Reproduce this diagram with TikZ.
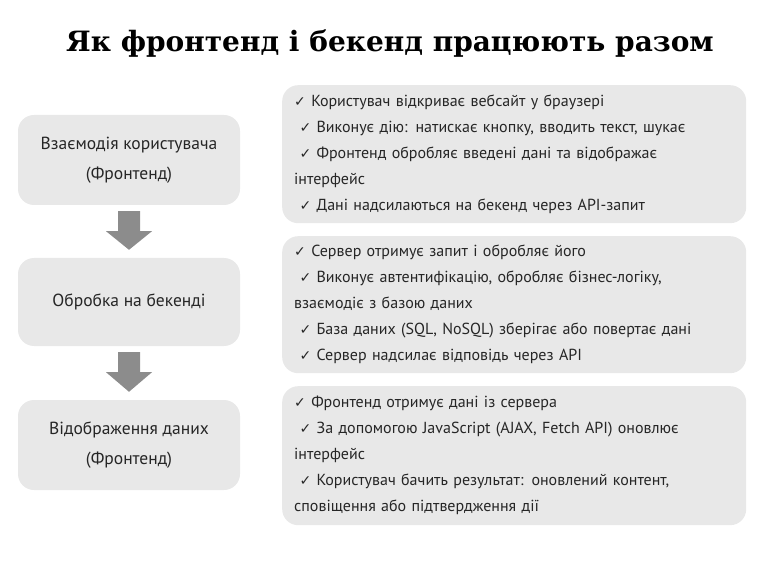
\documentclass[tikz,border=0pt]{standalone}
\usepackage{fontspec}
\setmainfont{PT Sans}
\newfontfamily\titlefont{DejaVu Serif}
\newfontfamily\symfont{DejaVu Sans}
\definecolor{boxgray}{HTML}{E8E8E8}
\definecolor{arrgray}{HTML}{8C8C8C}
\newcommand{\ck}{{\symfont\fontsize{14}{26}\selectfont ✓}}
\newcommand{\grayarrowdown}[2]{\fill[arrgray] ([xshift=-11pt,yshift=-6pt]#1.south) -- ([xshift=11pt,yshift=-6pt]#1.south) -- ([xshift=11pt,yshift=-26pt]#1.south) -- ([xshift=23pt,yshift=-26pt]#1.south) -- ([yshift=8pt]#2.north) -- ([xshift=-23pt,yshift=-26pt]#1.south) -- ([xshift=-11pt,yshift=-26pt]#1.south) -- cycle;}
\tikzset{
  leftbox/.style={fill=boxgray,rounded corners=16pt,minimum width=222pt,align=center,font=\fontsize{17.5}{30}\selectfont,text=black!85},
  rightbox/.style={fill=boxgray,rounded corners=16pt,minimum width=463pt,text width=440pt,align=left,font=\fontsize{16}{26}\selectfont,text=black!85,anchor=north west,inner xsep=12pt}
}
\begin{document}
\begin{tikzpicture}[x=1pt,y=-1pt]
\useasboundingbox (0,0) rectangle (768,561);
\node (title) at (390,44) {\titlefont\bfseries\fontsize{28}{32}\selectfont Як фронтенд і бекенд працюють разом};
\node[leftbox,minimum height=90pt] (l1) at (129,160) {Взаємодія користувача\\(Фронтенд)};
\node[leftbox,minimum height=88pt] (l2) at (129,302) {Обробка на бекенді};
\node[leftbox,minimum height=90pt] (l3) at (129,445) {Відображення даних\\(Фронтенд)};
\grayarrowdown{l1}{l2}
\grayarrowdown{l2}{l3}
\node[rightbox,minimum height=138pt] (r1) at (282,85) {\ck\ Користувач відкриває вебсайт у браузері\\
\ \ck\ Виконує дію: натискає кнопку, вводить текст, шукає\\
\ \ck\ Фронтенд обробляє введені дані та відображає\\ інтерфейс\\
\ \ck\ Дані надсилаються на бекенд через API-запит};
\node[rightbox,minimum height=137pt] (r2) at (282,236) {\ck\ Сервер отримує запит і обробляє його\\
\ \ck\ Виконує автентифікацію, обробляє бізнес-логіку,\\ взаємодіє з базою даних\\
\ \ck\ База даних (SQL, NoSQL) зберігає або повертає дані\\
\ \ck\ Сервер надсилає відповідь через API};
\node[rightbox,minimum height=139pt] (r3) at (282,386) {\ck\ Фронтенд отримує дані із сервера\\
\ \ck\ За допомогою JavaScript (AJAX, Fetch API) оновлює\\ інтерфейс\\
\ \ck\ Користувач бачить результат: оновлений контент,\\ сповіщення або підтвердження дії};
\end{tikzpicture}
\end{document}
